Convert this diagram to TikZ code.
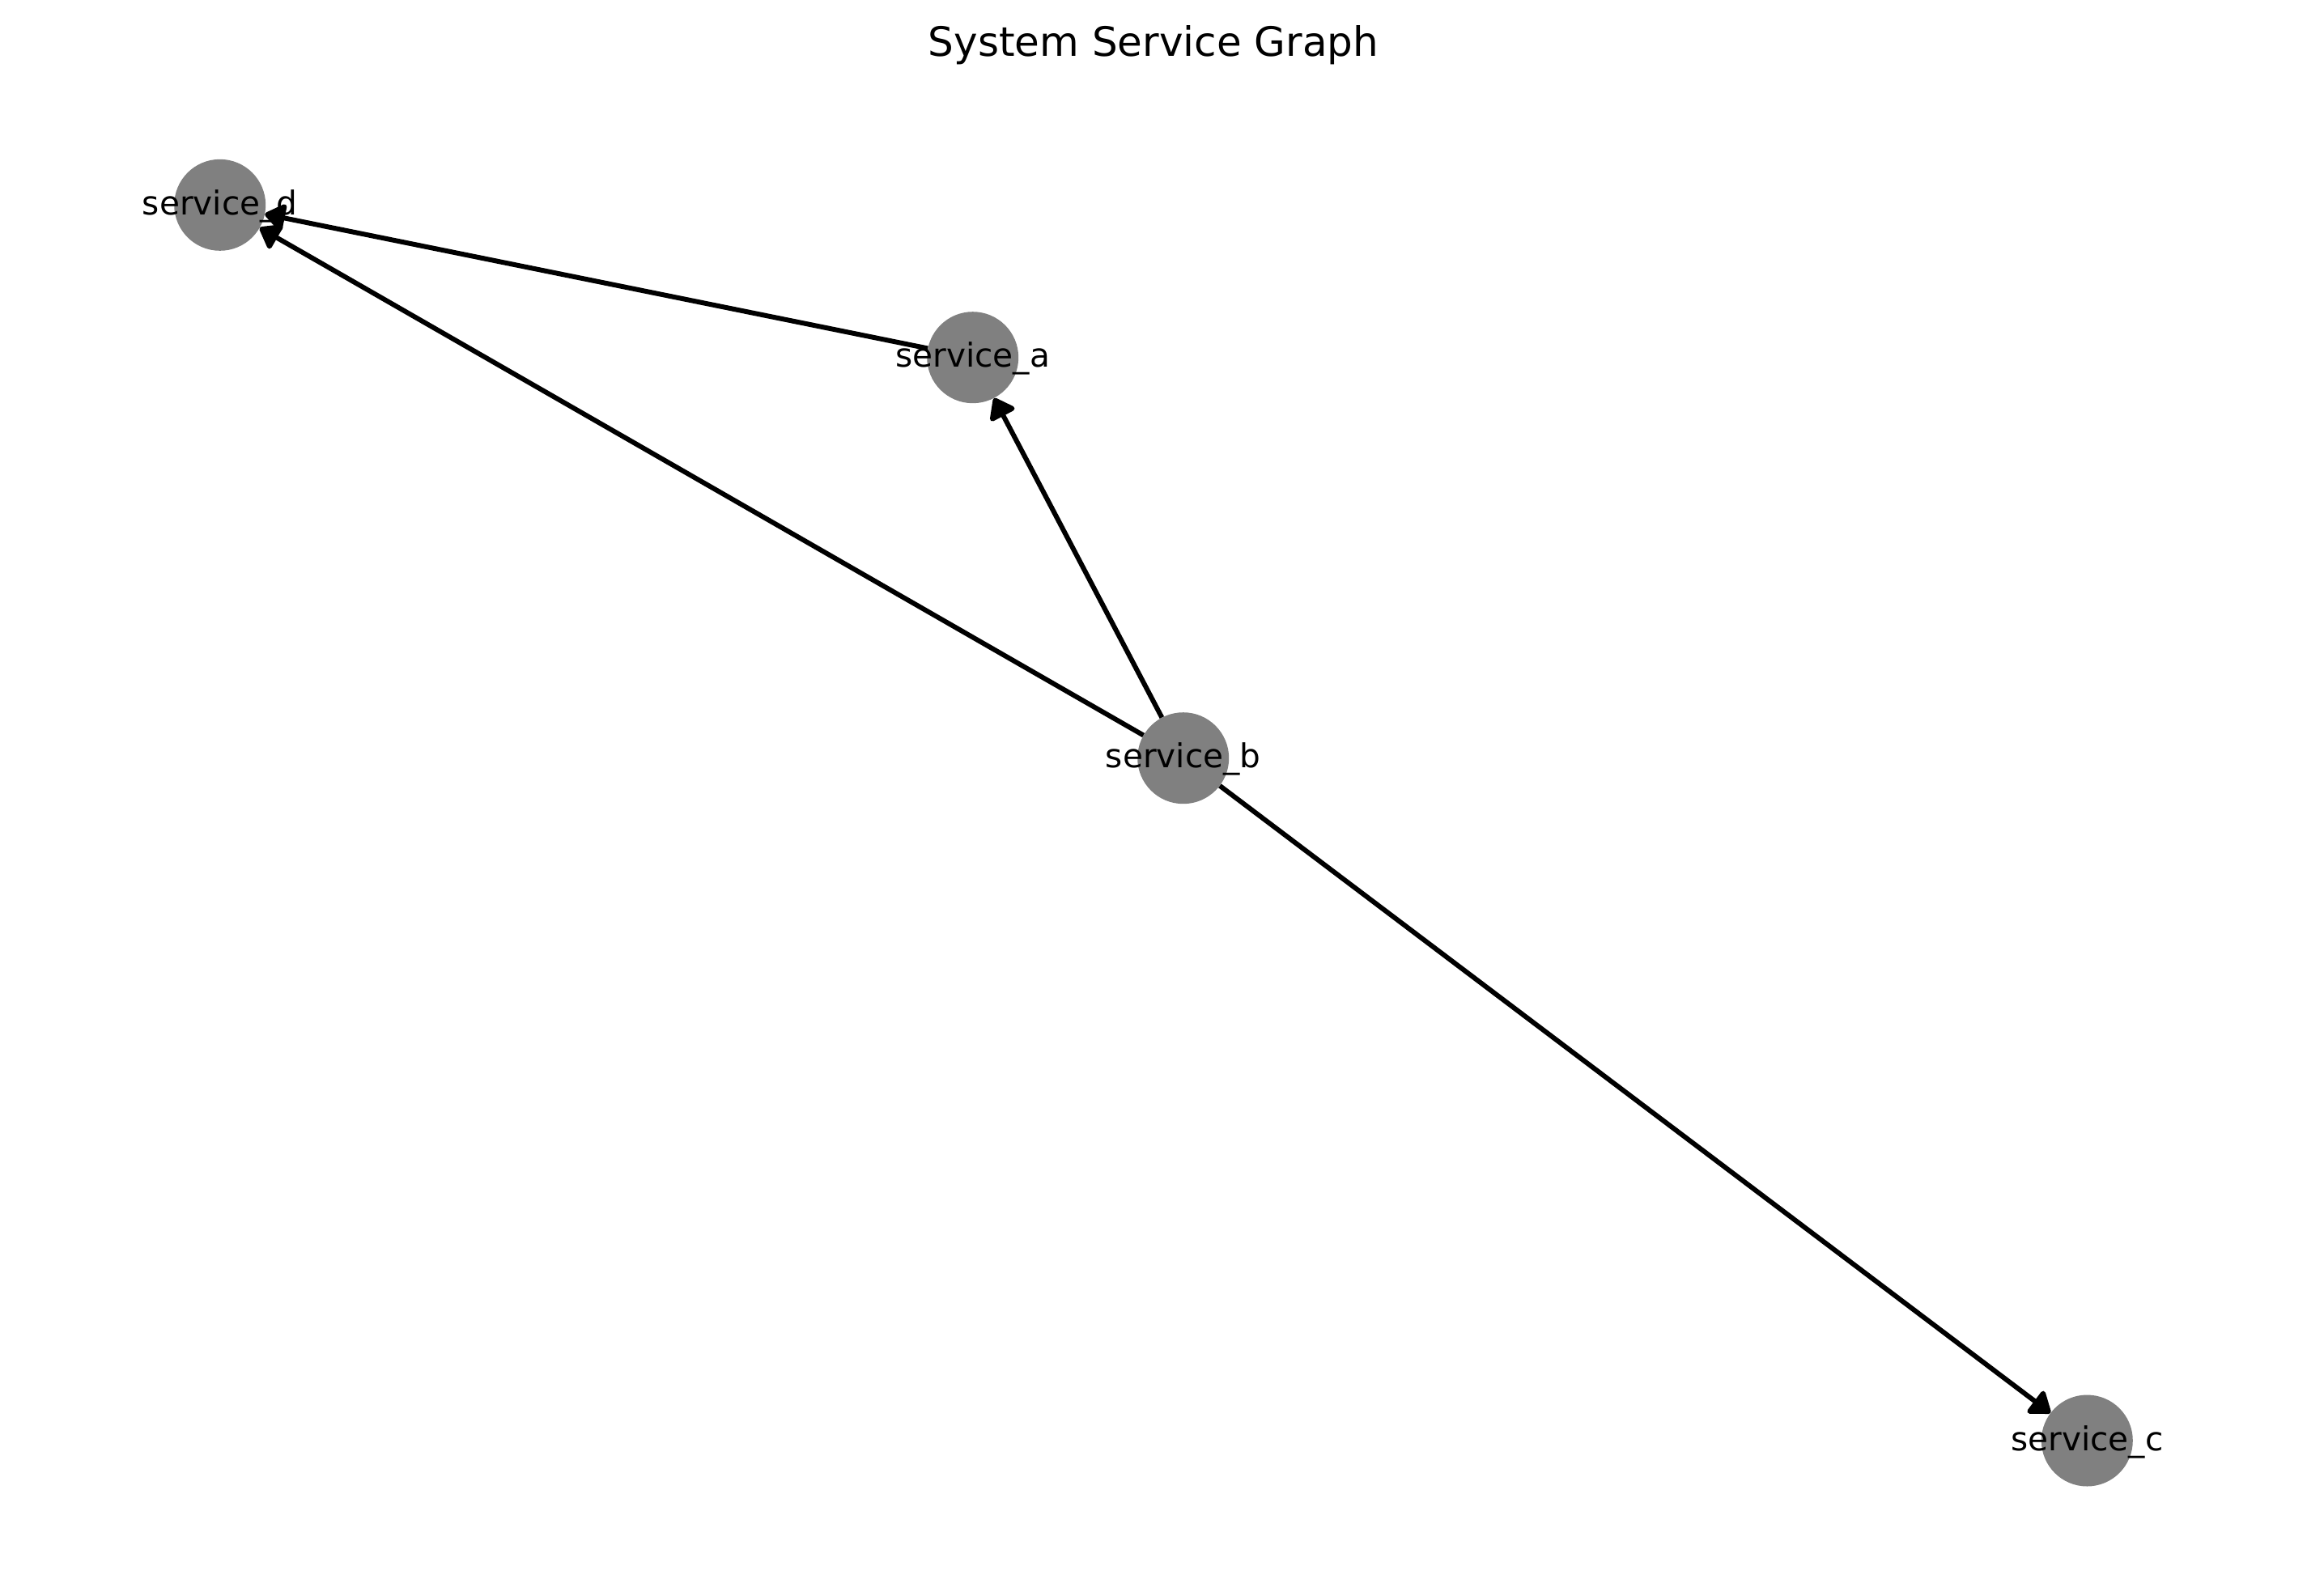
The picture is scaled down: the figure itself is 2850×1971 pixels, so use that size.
\documentclass[tikz,border=0pt]{standalone}
\usepackage{fontspec}
\setmainfont{DejaVu Sans}
\usetikzlibrary{arrows.meta}
\begin{document}
\begin{tikzpicture}[x=1pt,y=-1pt,
  svc/.style={circle, fill=black!50, draw=none, minimum size=113pt, inner sep=0pt},
  lbl/.style={anchor=base, inner sep=0pt, font=\fontsize{40.6}{48}\selectfont},
  dep/.style={draw=black, line width=6pt,
    -{Triangle[length=27pt,width=38pt,round]}}]
  \useasboundingbox (0,0) rectangle (2850,1971);
  % services
  \node[svc] (d) at (271.7,253.3) {};
  \node[svc] (a) at (1201.7,441.7) {};
  \node[svc] (b) at (1461.7,936.7) {};
  \node[svc] (c) at (2578.3,1780) {};
  % dependencies
  \draw[dep] (a) -- (d);
  \draw[dep] (b) -- (d);
  \draw[dep] (b) -- (a);
  \draw[dep] (b) -- (c);
  % names
  \node[lbl] (td) at (271.7,265.3) {service\_d};
  \node[lbl] (ta) at (1201.7,453.7) {service\_a};
  \node[lbl] (tb) at (1461.7,948.7) {service\_b};
  \node[lbl] (tc) at (2578.3,1792) {service\_c};
  % title
  \node[anchor=base, inner sep=0pt, font=\fontsize{50}{60}\selectfont] (title) at (1425,69) {System Service Graph};
\end{tikzpicture}
\end{document}
